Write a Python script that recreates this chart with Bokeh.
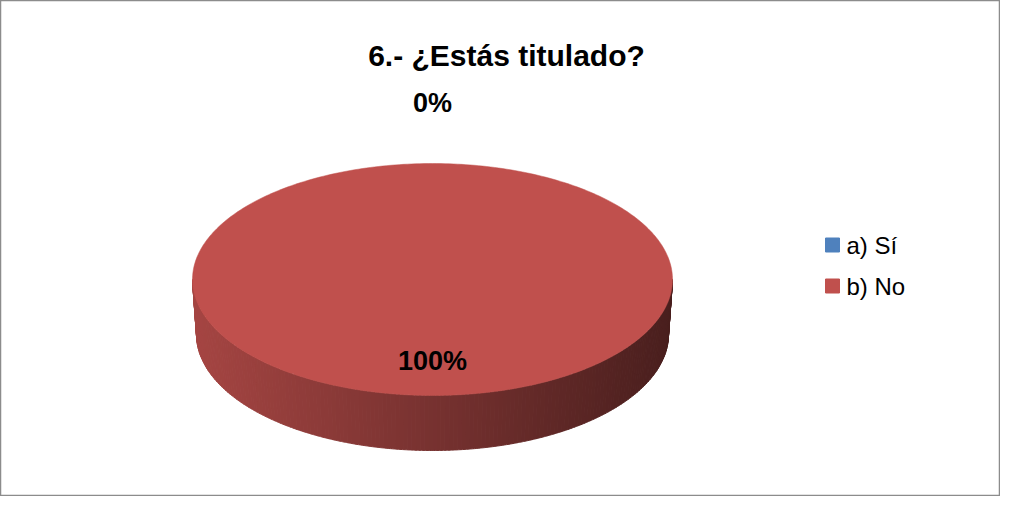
import numpy as np
from bokeh.plotting import figure
from bokeh.models import Range1d, ColumnDataSource
from bokeh.core.properties import value
from bokeh.embed import file_html
from bokeh.resources import INLINE

# ---- data ----
title = "6.- ¿Estás titulado?"
categories = ["a) Sí", "b) No"]
values = [0, 100]
colors = ["#4F81BD", "#C0504D"]

FONT = "Liberation Sans"

# ---- figure (data units == page pixels) ----
W, H = 1000, 496
p = figure(width=W, height=H, x_range=Range1d(0, W), y_range=Range1d(H, 0),
           output_backend="svg", toolbar_location=None, min_border=0,
           x_axis_location=None, y_axis_location=None)
p.grid.visible = False
p.outline_line_color = "#8c8c8c"
p.outline_line_width = 1.5
p.background_fill_color = "white"
p.border_fill_color = "white"

# ---- pie geometry ----
cx, cy = 432.0, 279.0
a, b = 240.0, 116.0
depth = 55.0
a_bot = 236.0

total = float(sum(values))
fracs = [v / total for v in values]
starts = np.cumsum([0.0] + fracs[:-1]) * 2 * np.pi
ends = starts + np.array(fracs) * 2 * np.pi


def hex2rgb(h):
    h = h.lstrip("#")
    return tuple(int(h[i:i + 2], 16) for i in (0, 2, 4))


def shade(h, f):
    r, g, bb = hex2rgb(h)
    return "#%02x%02x%02x" % tuple(int(max(0, min(255, round(c * f)))) for c in (r, g, bb))


# side strips (front half: angles pi/2 .. 3pi/2, clockwise from top)
sx, sy, sc = [], [], []
for s, e, col in zip(starts, ends, colors):
    lo, hi = max(s, np.pi / 2), min(e, 3 * np.pi / 2)
    if hi <= lo:
        continue
    n = max(2, int((hi - lo) / np.radians(1.0)))
    edges = np.linspace(lo, hi, n + 1)
    for t1, t2 in zip(edges[:-1], edges[1:]):
        tt = np.linspace(t1, t2, 4)
        top_x = cx + a * np.sin(tt)
        top_y = cy - b * np.cos(tt)
        bot_x = cx + a_bot * np.sin(tt[::-1])
        bot_y = cy + depth - b * np.cos(tt[::-1])
        xm = cx + a * np.sin((t1 + t2) / 2)
        f = (xm - (cx - a)) / (2 * a)
        c = shade(col, 0.86 - 0.48 * f)
        sx.append(list(top_x) + list(bot_x))
        sy.append(list(top_y) + list(bot_y))
        sc.append(c)

p.patches("xs", "ys", source=ColumnDataSource(dict(xs=sx, ys=sy, c=sc)),
          fill_color="c", line_color="c", line_width=1)

# top faces
tx, ty, tc = [], [], []
for s, e, col, fr in zip(starts, ends, colors, fracs):
    if fr <= 0:
        continue
    tt = np.linspace(s, e, max(3, int(360 * fr) + 1))
    xs = list(cx + a * np.sin(tt))
    ys = list(cy - b * np.cos(tt))
    if fr < 1:
        xs = [cx] + xs
        ys = [cy] + ys
    tx.append(xs)
    ty.append(ys)
    tc.append(col)
p.patches("xs", "ys", source=ColumnDataSource(dict(xs=tx, ys=ty, c=tc)),
          fill_color="c", line_color="c", line_width=0.5)

# data labels
lx, ly, lt = [], [], []
for s, e, v, fr in zip(starts, ends, values, fracs):
    m = (s + e) / 2
    r = 1.52 if fr < 0.05 else 0.70
    lx.append(cx + a * r * np.sin(m))
    ly.append(cy - b * r * np.cos(m))
    lt.append(f"{round(v / total * 100)}%")
p.text(lx, ly, text=lt, text_font=value(FONT), text_font_size="27px",
       text_font_style="bold", text_align="center", text_baseline="middle",
       text_color="black")

# title
p.text([506], [55], text=[title], text_font=value(FONT), text_font_size="30px",
       text_font_style="bold", text_align="center", text_baseline="alphabetic",
       text_color="black")

# legend
leg_y = [244.5 + 41 * i for i in range(len(categories))]
p.scatter([832] * len(categories), leg_y, marker="square", size=14,
          fill_color=colors, line_color=colors)
p.text([846] * len(categories), leg_y, text=categories, text_font=value(FONT),
       text_font_size="24px", text_align="left", text_baseline="middle",
       text_color="black")

open("out.html", "w").write(file_html(p, INLINE))
